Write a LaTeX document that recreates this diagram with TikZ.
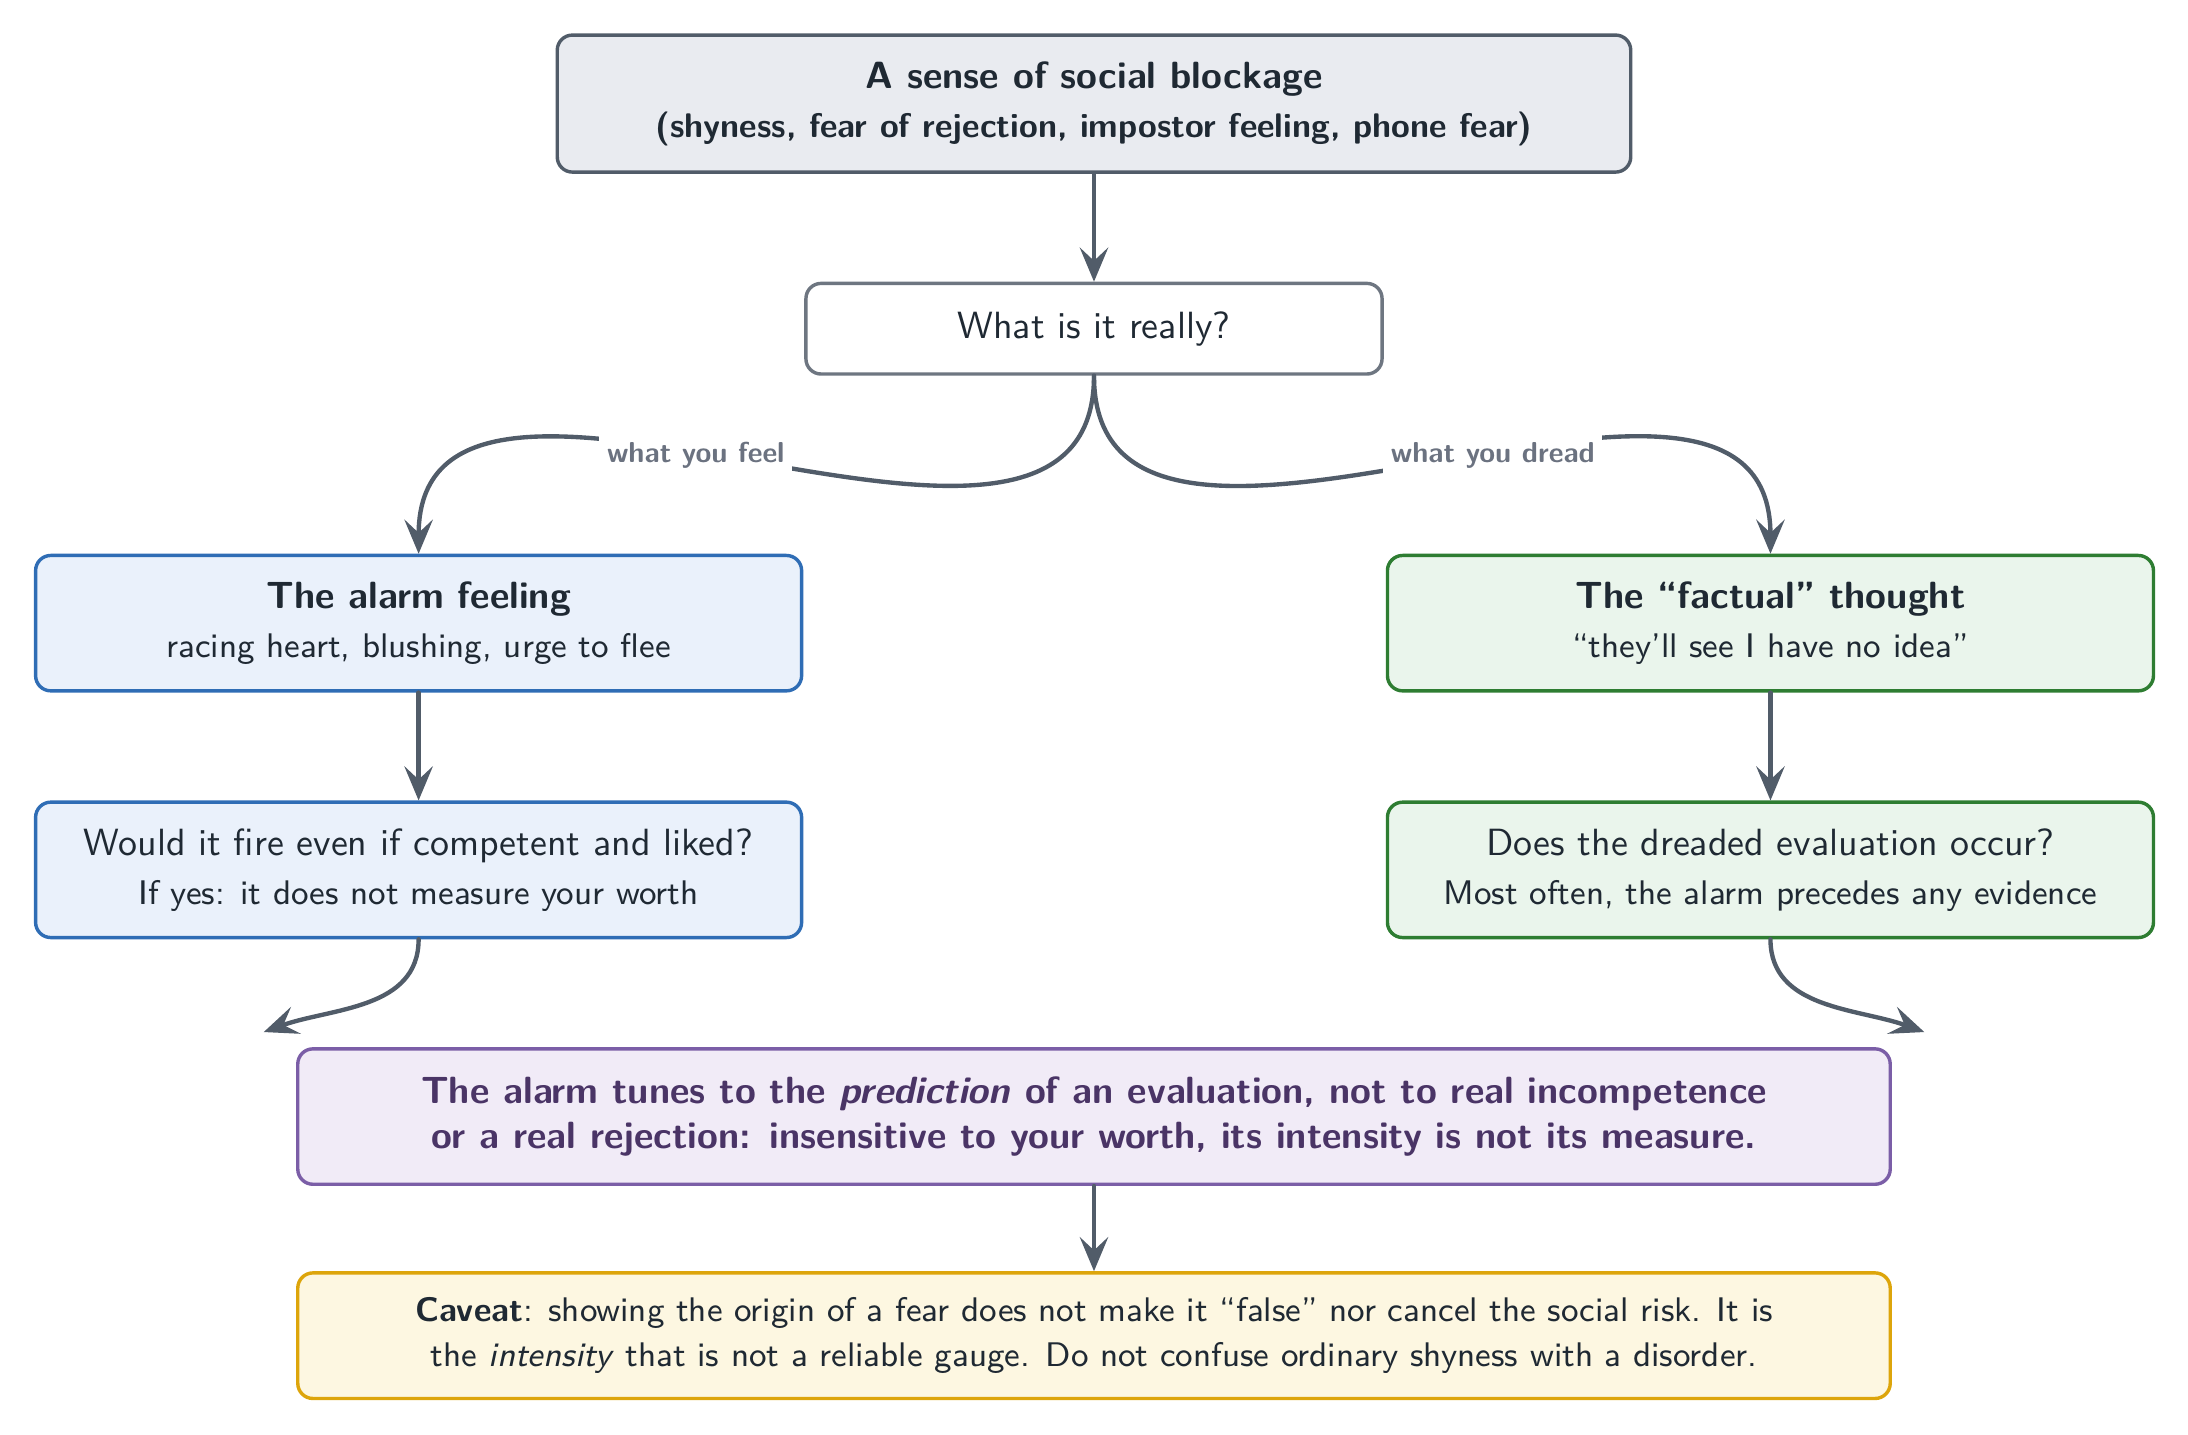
\documentclass[tikz,border=0pt]{standalone}
\usetikzlibrary{positioning,arrows.meta}
\renewcommand{\familydefault}{\sfdefault}

\definecolor{inkdark}{HTML}{1F2933}
\definecolor{slateline}{HTML}{515C69}
\definecolor{hdrfill}{HTML}{E9EBF0}
\definecolor{askline}{HTML}{6E7681}
\definecolor{feelline}{HTML}{2F6DB5}
\definecolor{feelfill}{HTML}{EAF1FB}
\definecolor{factline}{HTML}{2E7D32}
\definecolor{factfill}{HTML}{EAF5EC}
\definecolor{keyline}{HTML}{7B5EA7}
\definecolor{keyfill}{HTML}{F1EBF7}
\definecolor{keyink}{HTML}{4A3466}
\definecolor{warnline}{HTML}{DDA50B}
\definecolor{warnfill}{HTML}{FDF7E1}
\definecolor{tagink}{HTML}{6B7280}

\begin{document}
\begin{tikzpicture}[line cap=round,line join=round,
  box/.style={draw,rounded corners=4pt,line width=0.9pt,align=center,
    text=inkdark,inner sep=4pt},
  hdr/.style={box,draw=slateline,fill=hdrfill,minimum width=9.95cm,minimum height=1.27cm},
  ask/.style={box,draw=askline,fill=white,minimum width=5.34cm,minimum height=0.84cm},
  feel/.style={box,draw=feelline,fill=feelfill,minimum width=7.1cm,minimum height=1.255cm},
  fact/.style={box,draw=factline,fill=factfill,minimum width=7.1cm,minimum height=1.255cm},
  keybox/.style={box,draw=keyline,fill=keyfill,text=keyink,minimum width=14.76cm,minimum height=1.255cm},
  warn/.style={box,draw=warnline,fill=warnfill,minimum width=14.76cm,minimum height=1.164cm},
  flow/.style={-{Stealth[length=9pt,width=7.5pt,inset=3.5pt]},line width=1.15pt,draw=slateline},
  tag/.style={fill=white,text=tagink,font=\fontsize{7.6}{9}\selectfont\bfseries,inner sep=2pt}]

\useasboundingbox (0,0) rectangle (20.28,-13.30);

% --- start and question ---
\node[hdr] (block) at (10.14,-0.96)
  {\textbf{A sense of social blockage}\\[1pt]
   {\small\bfseries (shyness, fear of rejection, impostor feeling, phone fear)}};
\node[ask, below=1.0cm of block] (what) {What is it really?};

% --- two branches ---
\node[feel, below=1.65cm of what, xshift=-6.26cm] (alarm)
  {\textbf{The alarm feeling}\\[1pt] {\small racing heart, blushing, urge to flee}};
\node[fact, below=1.65cm of what, xshift=6.27cm] (thought)
  {\textbf{The ``factual'' thought}\\[1pt] {\small ``they'll see I have no idea''}};
\node[feel, below=1.0cm of alarm] (fire)
  {Would it fire even if competent and liked?\\[1pt] {\small If yes: it does not measure your worth}};
\node[fact, below=1.0cm of thought] (occur)
  {Does the dreaded evaluation occur?\\[1pt] {\small Most often, the alarm precedes any evidence}};

% --- conclusion and caveat ---
\node[keybox, anchor=north, yshift=-1.0cm] (tune) at (what |- fire.south)
  {\bfseries The alarm tunes to the \textit{prediction} of an evaluation, not to real incompetence\\
   \bfseries or a real rejection: insensitive to your worth, its intensity is not its measure.};
\node[warn, below=0.79cm of tune] (caveat)
  {\small \textbf{Caveat}: showing the origin of a fear does not make it ``false'' nor cancel the social risk. It is\\
   \small the \textit{intensity} that is not a reliable gauge. Do not confuse ordinary shyness with a disorder.};

\coordinate (inL) at ([xshift=-3mm,yshift=1.4mm]tune.north west);
\coordinate (inR) at ([xshift=3mm,yshift=1.4mm]tune.north east);

% --- connectors ---
\draw[flow] (block) -- (what);
\draw[flow] (what.south) to[out=-90,in=90,looseness=1.05]
  node[tag,pos=0.56] {what you feel} (alarm.north);
\draw[flow] (what.south) to[out=-90,in=90,looseness=1.05]
  node[tag,pos=0.56] {what you dread} (thought.north);
\draw[flow] (alarm) -- (fire);
\draw[flow] (thought) -- (occur);
\draw[flow] (fire.south) to[out=-90,in=20] (inL);
\draw[flow] (occur.south) to[out=-90,in=160] (inR);
\draw[flow] (tune) -- (caveat);

\end{tikzpicture}
\end{document}
